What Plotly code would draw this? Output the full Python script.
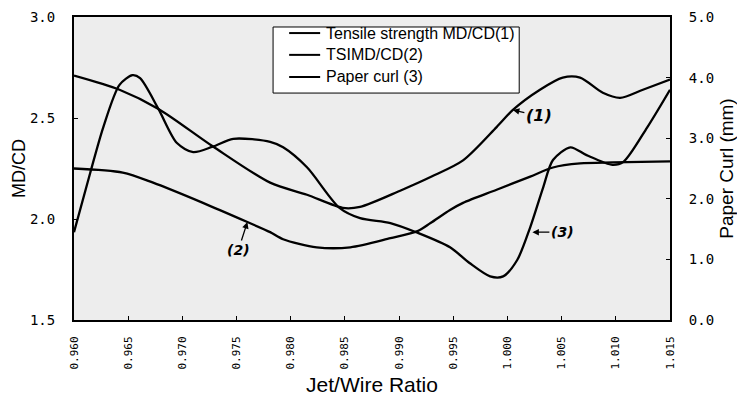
import plotly.graph_objects as go

# Jet/wire ratio sample points for each measured series
tensile_x = [0.9600, 0.9642, 0.9678, 0.9728, 0.9781, 0.9815, 0.9848, 0.9864, 0.9901,
             0.9930, 0.9959, 0.9990, 1.0005, 1.0030, 1.0051, 1.0067, 1.0088, 1.0104,
             1.0125, 1.0150]
tensile_md_cd = [2.71, 2.64, 2.545, 2.36, 2.18, 2.12, 2.055, 2.06, 2.14,
                 2.21, 2.29, 2.455, 2.54, 2.64, 2.70, 2.70, 2.625, 2.60,
                 2.64, 2.69]

tsi_x = [0.9600, 0.9645, 0.9673, 0.9719, 0.9760, 0.9781, 0.9793, 0.9824, 0.9855,
         0.9892, 0.9917, 0.9929, 0.9947, 0.9959, 0.9990, 1.0021, 1.0042, 1.0067,
         1.0097, 1.0150]
tsi_md_cd = [2.25, 2.23, 2.18, 2.08, 1.985, 1.935, 1.90, 1.86, 1.86,
             1.905, 1.94, 1.98, 2.045, 2.08, 2.145, 2.21, 2.255, 2.275,
             2.28, 2.285]

curl_x = [0.9600, 0.9615, 0.9627, 0.9642, 0.9654, 0.9661, 0.9678, 0.9695, 0.9710,
          0.9728, 0.9747, 0.9781, 0.9793, 0.9815, 0.9845, 0.9864, 0.9892, 0.9917,
          0.9947, 0.9965, 0.9984, 0.9996, 1.0009, 1.0021, 1.0033, 1.0042, 1.0058,
          1.0073, 1.0097, 1.0107, 1.0129, 1.0150]
paper_curl_mm = [1.45, 2.43, 3.18, 3.88, 4.04, 3.99, 3.48, 2.92, 2.77,
                 2.86, 2.99, 2.94, 2.85, 2.52, 1.85, 1.68, 1.60, 1.44,
                 1.20, 0.94, 0.72, 0.72, 0.99, 1.53, 2.19, 2.64, 2.85,
                 2.72, 2.56, 2.61, 3.18, 3.80]

series_names = ["Tensile strength MD/CD(1)", "TSIMD/CD(2)", "Paper curl (3)"]

x_ticks = [0.960, 0.965, 0.970, 0.975, 0.980, 0.985, 0.990, 0.995,
           1.000, 1.005, 1.010, 1.015]
left_ticks = [1.5, 2.0, 2.5, 3.0]
right_ticks = [0.0, 1.0, 2.0, 3.0, 4.0, 5.0]

line_style = dict(color="black", width=2.3, shape="spline", smoothing=0.8)

fig = go.Figure()
fig.add_trace(go.Scatter(x=tensile_x, y=tensile_md_cd, mode="lines",
                         name=series_names[0], line=line_style))
fig.add_trace(go.Scatter(x=tsi_x, y=tsi_md_cd, mode="lines",
                         name=series_names[1], line=line_style))
fig.add_trace(go.Scatter(x=curl_x, y=paper_curl_mm, mode="lines",
                         name=series_names[2], line=line_style, yaxis="y2"))

mono = "DejaVu Sans Mono"
sans = "Liberation Sans, Arial, sans-serif"


def hand(size):
    return dict(family="DejaVu Sans", size=size, color="black", style="italic", weight="bold")


# Boxed key in the upper middle of the plot, in paper coordinates
key_left, key_right, key_top, key_bottom = 0.334, 0.747, 0.967, 0.749
key_rows = [0.947, 0.875, 0.802]
shapes = [dict(type="rect", xref="paper", yref="paper",
               x0=key_left, x1=key_right, y0=key_bottom, y1=key_top,
               line=dict(color="black", width=1), fillcolor="white", layer="above")]
annotations = []
for row_y, name in zip(key_rows, series_names):
    shapes.append(dict(type="line", xref="paper", yref="paper",
                       x0=0.361, x1=0.413, y0=row_y, y1=row_y,
                       line=dict(color="black", width=2), layer="above"))
    annotations.append(dict(x=0.420, y=row_y, xref="paper", yref="paper",
                            text=name, showarrow=False, xanchor="left", yanchor="middle",
                            font=dict(family=sans, size=16, color="black")))

annotations += [
    dict(x=1.0005, y=2.54, xref="x", yref="y", text="(1)", font=hand(16),
         showarrow=True, arrowhead=2, arrowsize=1, arrowwidth=1.3,
         arrowcolor="black", ax=26, ay=6),
    dict(x=0.9760, y=1.985, xref="x", yref="y", text="(2)", font=hand(14),
         showarrow=True, arrowhead=2, arrowsize=1, arrowwidth=1.3,
         arrowcolor="black", ax=-9, ay=28),
    dict(x=1.0023, y=1.45, xref="x", yref="y2", text="(3)", font=hand(14),
         showarrow=True, arrowhead=2, arrowsize=1, arrowwidth=1.3,
         arrowcolor="black", ax=30, ay=0),
]

fig.update_layout(
    width=737, height=396,
    margin=dict(l=74, r=67, t=17, b=76),
    paper_bgcolor="white",
    plot_bgcolor="#ededed",
    showlegend=False,
    shapes=shapes,
    annotations=annotations,
    xaxis=dict(
        range=[0.960, 1.015], tickvals=x_ticks, tickformat=".3f",
        tickangle=-90, tickfont=dict(family=mono, size=11, color="black"),
        ticks="inside", ticklen=4, tickcolor="black", ticklabelstandoff=10,
        showline=True, linecolor="black", linewidth=2, mirror=True,
        showgrid=False, zeroline=False, automargin=False,
        title=dict(text="Jet/Wire Ratio", font=dict(family=sans, size=21, color="black"),
                   standoff=12),
    ),
    yaxis=dict(
        range=[1.5, 3.0], tickvals=left_ticks, tickformat=".1f",
        tickfont=dict(family=mono, size=14, color="black"),
        ticks="inside", ticklen=4, tickcolor="black", ticklabelstandoff=14,
        showline=True, linecolor="black", linewidth=2,
        showgrid=False, zeroline=False, automargin=False,
        title=dict(text="MD/CD", font=dict(family=sans, size=18, color="black"),
                   standoff=0),
    ),
    yaxis2=dict(
        range=[0, 5], tickvals=right_ticks, tickformat=".1f",
        overlaying="y", side="right",
        tickfont=dict(family=mono, size=14, color="black"),
        ticks="inside", ticklen=4, tickcolor="black", ticklabelstandoff=14,
        showline=True, linecolor="black", linewidth=2,
        showgrid=False, zeroline=False, automargin=False,
        title=dict(text="Paper Curl (mm)", font=dict(family=sans, size=19, color="black"),
                   standoff=10),
    ),
)

fig.write_html("out.html")
